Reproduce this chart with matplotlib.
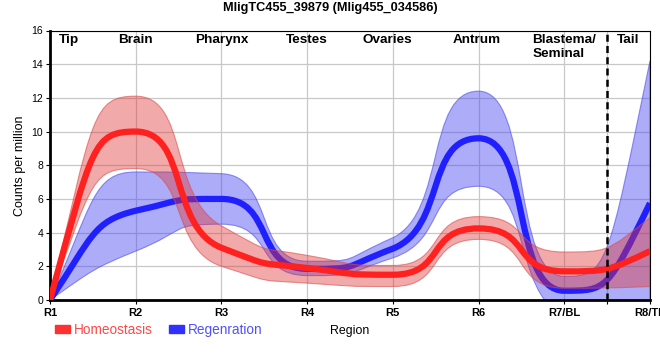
import matplotlib
matplotlib.use('Agg')
import matplotlib.pyplot as plt
from matplotlib.path import Path
from matplotlib.patches import PathPatch, Patch
import numpy as np

plt.rcParams['font.family'] = ['Liberation Sans', 'DejaVu Sans']

## regions on the x axis
regions = ['R1', 'R2', 'R3', 'R4', 'R5', 'R6', 'R7/BL', 'R8/TL']
pos = [1, 2, 3, 4, 5, 6, 7, 8]

## anatomical labels on top of the plot
parts = ['Tip', 'Brain', 'Pharynx', 'Testes', 'Ovaries', 'Antrum', 'Blastema/\nSeminal', 'Tail']
parts_pos = [1.22, 2, 3, 4, 4.94, 5.98, 7, 7.75]

## counts per million, mean and band (upper / lower)
homeo = [0, 10.0, 3.1, 1.9, 1.5, 4.25, 1.7, 2.9]
homeo_hi = [0, 12.1, 4.4, 2.65, 2.05, 4.95, 2.85, 4.9]
homeo_lo = [0, 7.8, 2.0, 1.0, 0.8, 3.6, 0.7, 0.8]

regen = [0, 5.3, 6.0, 1.85, 3.05, 9.6, 0.55, 5.75]
regen_hi = [0, 7.6, 7.5, 2.3, 3.7, 12.4, 1.4, 14.2]
regen_lo = [0, 2.9, 4.5, 1.45, 2.5, 6.75, -1.0, -2.5]

## horizontal reach of the bezier handles (fraction of a segment)
SMOOTH_IN = 0.62
SMOOTH_END = 0.5


def tangents(x, y):
    # monotone (pchip) slopes at each point
    x = np.asarray(x, float)
    y = np.asarray(y, float)
    h = np.diff(x)
    m = np.diff(y) / h
    d = np.zeros_like(y)
    for k in range(1, len(y) - 1):
        if m[k - 1] * m[k] > 0:
            w1 = 2 * h[k] + h[k - 1]
            w2 = h[k] + 2 * h[k - 1]
            d[k] = (w1 + w2) / (w1 / m[k - 1] + w2 / m[k])

    def edge(h0, h1, m0, m1):
        dd = ((2 * h0 + h1) * m0 - h0 * m1) / (h0 + h1)
        if np.sign(dd) != np.sign(m0):
            return 0.0
        if np.sign(m0) != np.sign(m1) and abs(dd) > abs(3 * m0):
            return 3 * m0
        return dd

    d[0] = edge(h[0], h[1], m[0], m[1])
    d[-1] = edge(h[-1], h[-2], m[-1], m[-2])
    return d


def bezier(x, y):
    d = tangents(x, y)
    n = len(x)
    verts = [(x[0], y[0])]
    for i in range(n - 1):
        h = x[i + 1] - x[i]
        a = SMOOTH_END if i in (0, n - 2) else SMOOTH_IN
        lo, hi = min(y[i], y[i + 1]), max(y[i], y[i + 1])
        c1 = np.clip(y[i] + d[i] * h * a, lo, hi)
        c2 = np.clip(y[i + 1] - d[i + 1] * h * a, lo, hi)
        verts += [(x[i] + h * a, c1), (x[i + 1] - h * a, c2), (x[i + 1], y[i + 1])]
    return verts


def curve(x, y):
    v = bezier(x, y)
    return Path(v, [Path.MOVETO] + [Path.CURVE4] * (len(v) - 1))


def band(x, lo, hi):
    up = bezier(x, hi)
    dn = bezier(x, lo)[::-1]
    v = up + dn + [up[0]]
    codes = ([Path.MOVETO] + [Path.CURVE4] * (len(up) - 1) + [Path.LINETO]
             + [Path.CURVE4] * (len(dn) - 1) + [Path.CLOSEPOLY])
    return Path(v, codes)


fig = plt.figure(figsize=(6.6, 3.6), dpi=100)
ax = fig.add_axes([50 / 660, 60 / 360, 600 / 660, 269.5 / 360])

ax.add_patch(PathPatch(band(pos, regen_lo, regen_hi), facecolor=(0.25, 0.25, 0.95, 0.43),
                       edgecolor=(0.3, 0.3, 0.9, 0.6), lw=0.8, zorder=2))
ax.add_patch(PathPatch(curve(pos, regen), fill=False, edgecolor='#2020ff', lw=4.5,
                       capstyle='butt', zorder=3))
ax.add_patch(PathPatch(band(pos, homeo_lo, homeo_hi), facecolor=(0.88, 0.2, 0.2, 0.42),
                       edgecolor=(0.85, 0.3, 0.3, 0.6), lw=0.8, zorder=4))
ax.add_patch(PathPatch(curve(pos, homeo), fill=False, edgecolor='#ff2020', lw=4.5,
                       capstyle='butt', zorder=5))

ax.axvline(7.5, color='black', lw=1.8, linestyle=(0, (2.8, 1.7)), zorder=6)

ax.set_xlim(1, 8)
ax.set_ylim(0, 16)
ax.set_xticks(pos + [7.5])
ax.set_xticklabels(regions + [''], fontsize=8, fontweight='bold')
ax.set_yticks(np.arange(0, 17, 2))
ax.tick_params(axis='y', labelsize=7.5, length=3, pad=2)
ax.tick_params(axis='x', length=3, pad=3)
ax.grid(True, color='#c8c8c8', lw=0.9)
ax.set_axisbelow(True)
for s in ['left', 'bottom']:
    ax.spines[s].set_linewidth(2)
for s in ['top', 'right']:
    ax.spines[s].set_linewidth(0.8)

for name, p in zip(parts, parts_pos):
    ax.text(p, 0.988, name, transform=ax.get_xaxis_transform(), ha='center', va='top',
            multialignment='left', fontsize=9.7, fontweight='bold', zorder=7)

ax.set_ylabel('Counts per million', fontsize=9)
ax.yaxis.set_label_coords(-0.04, 0.5)
ax.set_xlabel('Region', fontsize=8.9)
ax.xaxis.set_label_coords(0.5, -0.093)

fig.text(0.5, 0.978, 'MligTC455_39879 (Mlig455_034586)', ha='center', va='center',
         fontsize=9.2, fontweight='bold')

ax.legend(handles=[Patch(color='#ff3030', label='Homeostasis'),
                   Patch(color='#3030ff', label='Regenration')],
          labelcolor=['#ff4848', '#5050ff'], ncol=2, frameon=False, fontsize=9.8,
          loc='center left', bbox_to_anchor=(0.083, 0.083), bbox_transform=fig.transFigure,
          handlelength=1.1, handleheight=0.5, handletextpad=0.3, columnspacing=1.2,
          borderpad=0, borderaxespad=0)

fig.savefig('out.png', dpi=100)
